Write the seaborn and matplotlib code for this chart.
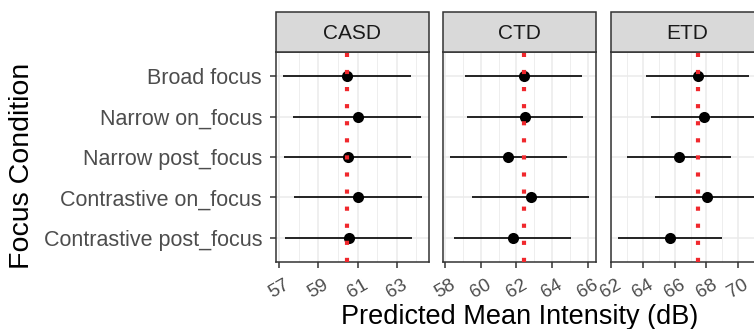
import matplotlib
matplotlib.use("Agg")
import matplotlib.pyplot as plt
from matplotlib.patches import Rectangle
from matplotlib.ticker import FixedLocator
import numpy as np
import pandas as pd
import seaborn as sns

# ---- data ----
conditions = ["Broad focus", "Narrow on_focus", "Narrow post_focus",
              "Contrastive on_focus", "Contrastive post_focus"]
groups = ["CASD", "CTD", "ETD"]

casd_mean = [60.48, 61.00, 60.51, 61.02, 60.56]
casd_low = [57.20, 57.73, 57.24, 57.76, 57.29]
casd_high = [63.73, 64.26, 63.75, 64.29, 63.80]

ctd_mean = [62.40, 62.51, 61.54, 62.80, 61.78]
ctd_low = [59.12, 59.21, 58.28, 59.51, 58.50]
ctd_high = [65.67, 65.77, 64.83, 66.10, 65.06]

etd_mean = [67.45, 67.86, 66.30, 68.02, 65.73]
etd_low = [64.17, 64.53, 62.99, 64.74, 62.40]
etd_high = [70.70, 71.10, 69.54, 71.18, 68.99]

ref_line = [60.48, 62.40, 67.45]

major_ticks = [[57, 59, 61, 63], [58, 60, 62, 64, 66], [62, 64, 66, 68, 70]]
minor_ticks = [[58, 60, 62, 64], [59, 61, 63, 65], [63, 65, 67, 69, 71]]

means = [casd_mean, ctd_mean, etd_mean]
lows = [casd_low, ctd_low, etd_low]
highs = [casd_high, ctd_high, etd_high]

frames = []
for g, m, lo, hi in zip(groups, means, lows, highs):
    frames.append(pd.DataFrame({"group": g, "condition": conditions,
                                "mean": m, "low": lo, "high": hi}))
df = pd.concat(frames, ignore_index=True)

# ---- style ----
sns.set_theme(style="white")
plt.rcParams["font.family"] = ["Liberation Sans", "DejaVu Sans"]

W, H = 754, 329
fig = plt.figure(figsize=(W / 100, H / 100), dpi=100)

panel_left = [276, 443.3, 610.7]
panel_w = 153
panel_top, panel_bot = 52, 262
strip_h = 40

ypos = {c: i for i, c in enumerate(conditions)}
dark = "#333333"

for k, g in enumerate(groups):
    ax = fig.add_axes([panel_left[k] / W, (H - panel_bot) / H,
                       panel_w / W, (panel_bot - panel_top) / H])
    sub = df[df["group"] == g].copy()
    sub["y"] = sub["condition"].map(ypos)

    # errorbars
    ax.hlines(sub["y"], sub["low"], sub["high"], color="black", lw=1.2, zorder=3)
    # points
    sns.scatterplot(data=sub, x="mean", y="y", ax=ax, color="black",
                    s=64, linewidth=0, zorder=4, legend=False)
    # reference line
    ax.axvline(ref_line[k], color="#F0282D", lw=3.0, linestyle=(0, (1, 3.1)),
               dash_capstyle="butt", zorder=5)

    lo_all, hi_all = sub["low"].min(), sub["high"].max()
    pad = 0.05 * (hi_all - lo_all)
    ax.set_xlim(lo_all - pad, hi_all + pad)
    ax.set_ylim(len(conditions) - 1 + 0.6, -0.6)

    ax.xaxis.set_major_locator(FixedLocator(major_ticks[k]))
    ax.xaxis.set_minor_locator(FixedLocator(minor_ticks[k]))
    ax.set_xticklabels([str(t) for t in major_ticks[k]], rotation=30,
                       ha="center", va="top", fontsize=13.5, color="#4D4D4D")
    ax.set_yticks(range(len(conditions)))
    ax.grid(True, which="major", color="#EBEBEB", lw=1.1, zorder=0)
    ax.grid(True, which="minor", axis="x", color="#EBEBEB", lw=0.6, zorder=0)
    ax.set_axisbelow(True)

    ax.tick_params(axis="x", which="major", length=4, width=1.1, color=dark,
                   pad=6.5, bottom=True)
    ax.tick_params(axis="x", which="minor", length=0)
    if k == 0:
        ax.set_yticklabels(conditions, fontsize=15.5, color="#4D4D4D")
        ax.tick_params(axis="y", length=4, width=1.1, color=dark, pad=6, left=True)
    else:
        ax.set_yticklabels([])
        ax.tick_params(axis="y", length=0)

    ax.set_xlabel("")
    ax.set_ylabel("")
    for sp in ax.spines.values():
        sp.set_color(dark)
        sp.set_linewidth(1.1)
        sp.set_visible(True)

    # strip
    sh = strip_h / (panel_bot - panel_top)
    ax.add_patch(Rectangle((0, 1), 1, sh, transform=ax.transAxes,
                           facecolor="#D9D9D9", edgecolor=dark, lw=1.1,
                           clip_on=False, zorder=6))
    ax.text(0.5, 1 + sh / 2, g, transform=ax.transAxes, ha="center",
            va="center_baseline", fontsize=15, color="#1A1A1A", zorder=7)

fig.text(519.7 / W, (H - 324) / H, "Predicted Mean Intensity (dB)",
         ha="center", va="baseline", fontsize=19.5, color="black")
fig.text(22 / W, (H - 165.5) / H, "Focus Condition", rotation=90,
         ha="center", va="center", fontsize=20.5, color="black")

fig.savefig("out.png", dpi=100)
